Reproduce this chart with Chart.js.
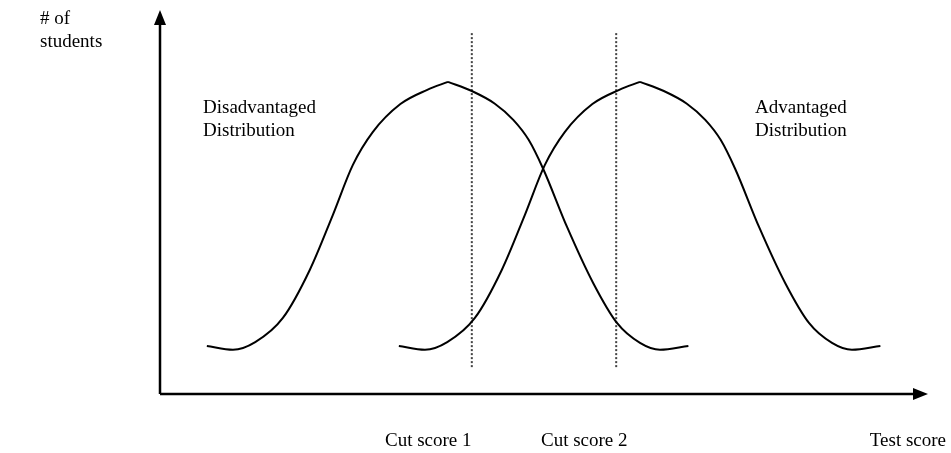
<!DOCTYPE html>
<html>
<head>
<meta charset="utf-8">
<script src="https://cdn.jsdelivr.net/npm/chart.js@4.4.1/dist/chart.umd.min.js"></script>
<style>
  body { margin: 0; background: #fff; }
  canvas { display: block; }
</style>
</head>
<body>
<canvas id="myChart" width="951" height="453"></canvas>
<script>
// values (score on x, # of students on y, both 0..100)
// each curve is split at its peak so the top keeps its small point
const disadvantagedX = [6.1, 9.5, 12.4, 16.0, 19.5, 22.5, 25.1, 27.7, 31.3, 34.8, 37.5, 40.6, 43.6, 46.0, 48.0, 49.9, 53.0, 56.4, 59.5, 62.5, 65.1, 68.8];
const disadvantagedY = [12.5, 11.5, 13.5, 19.8, 32.3, 46.6, 59.6, 68.2, 75.5, 79.2, 81.3, 78.9, 75.6, 71.4, 66.2, 58.6, 43.5, 28.9, 18.5, 13.3, 11.5, 12.5];
const advantagedX = [31.1, 34.5, 37.4, 41.0, 44.5, 47.5, 50.1, 52.7, 56.3, 59.8, 62.5, 65.6, 68.6, 71.0, 73.0, 74.9, 78.0, 81.4, 84.5, 87.5, 90.1, 93.8];
const advantagedY = [12.5, 11.5, 13.5, 19.8, 32.3, 46.6, 59.6, 68.2, 75.5, 79.2, 81.3, 78.9, 75.6, 71.4, 66.2, 58.6, 43.5, 28.9, 18.5, 13.3, 11.5, 12.5];
const peakIndex = 10;
const cutScores = [40.6, 59.4];
const cutLabels = ['Cut score 1', 'Cut score 2'];
const cutLineY = [7.0, 94.0];
const curveLabels = [['Disadvantaged', 'Distribution'], ['Advantaged', 'Distribution']];

const toPoints = (xs, ys) => xs.map((x, i) => ({x: x, y: ys[i]}));

const curveStyle = {
  showLine: true,
  borderColor: '#000',
  borderWidth: 2,
  pointRadius: 0,
  cubicInterpolationMode: 'monotone',
  fill: false
};
const cutStyle = {
  showLine: true,
  borderColor: '#444',
  borderWidth: 2,
  borderDash: [2, 2],
  pointRadius: 0,
  fill: false
};

function halves(label, xs, ys) {
  return [
    Object.assign({label: label, data: toPoints(xs.slice(0, peakIndex + 1), ys.slice(0, peakIndex + 1))}, curveStyle),
    Object.assign({label: label, data: toPoints(xs.slice(peakIndex), ys.slice(peakIndex))}, curveStyle)
  ];
}

const FONT = '19px "Liberation Serif", "Times New Roman", serif';

// axes with arrow heads and the free text labels
const sketch = {
  id: 'sketch',
  afterDraw(chart) {
    const {ctx, chartArea: {left, right, top, bottom}} = chart;
    ctx.save();
    ctx.strokeStyle = '#000';
    ctx.fillStyle = '#000';
    ctx.lineWidth = 2.5;

    ctx.beginPath();
    ctx.moveTo(left, bottom);
    ctx.lineTo(left, top + 12);
    ctx.moveTo(left, bottom);
    ctx.lineTo(right - 12, bottom);
    ctx.stroke();

    ctx.beginPath();
    ctx.moveTo(left, top);
    ctx.lineTo(left - 6, top + 15);
    ctx.lineTo(left + 6, top + 15);
    ctx.closePath();
    ctx.fill();

    ctx.beginPath();
    ctx.moveTo(right, bottom);
    ctx.lineTo(right - 15, bottom - 6);
    ctx.lineTo(right - 15, bottom + 6);
    ctx.closePath();
    ctx.fill();

    ctx.font = FONT;
    ctx.textBaseline = 'alphabetic';
    ctx.textAlign = 'left';
    ctx.fillText('# of', 40, 24);
    ctx.fillText('students', 40, 47);

    ctx.fillText(curveLabels[0][0], 203, 113);
    ctx.fillText(curveLabels[0][1], 203, 136);
    ctx.fillText(curveLabels[1][0], 755, 113);
    ctx.fillText(curveLabels[1][1], 755, 136);

    ctx.fillText(cutLabels[0], 385, 446);
    ctx.fillText(cutLabels[1], 541, 446);
    ctx.textAlign = 'right';
    ctx.fillText('Test score', 946, 446);
    ctx.restore();
  }
};

const ctx = document.getElementById('myChart').getContext('2d');
new Chart(ctx, {
  type: 'scatter',
  data: {
    datasets: [
      ...halves('Disadvantaged Distribution', disadvantagedX, disadvantagedY),
      ...halves('Advantaged Distribution', advantagedX, advantagedY),
      Object.assign({label: cutLabels[0], data: toPoints([cutScores[0], cutScores[0]], cutLineY)}, cutStyle),
      Object.assign({label: cutLabels[1], data: toPoints([cutScores[1], cutScores[1]], cutLineY)}, cutStyle)
    ]
  },
  plugins: [sketch],
  options: {
    responsive: false,
    animation: false,
    layout: {padding: {left: 160, right: 23, top: 10, bottom: 59}},
    scales: {
      x: {type: 'linear', min: 0, max: 100, display: false},
      y: {type: 'linear', min: 0, max: 100, display: false}
    },
    plugins: {
      legend: {display: false},
      tooltip: {enabled: false}
    }
  }
});
</script>
</body>
</html>
